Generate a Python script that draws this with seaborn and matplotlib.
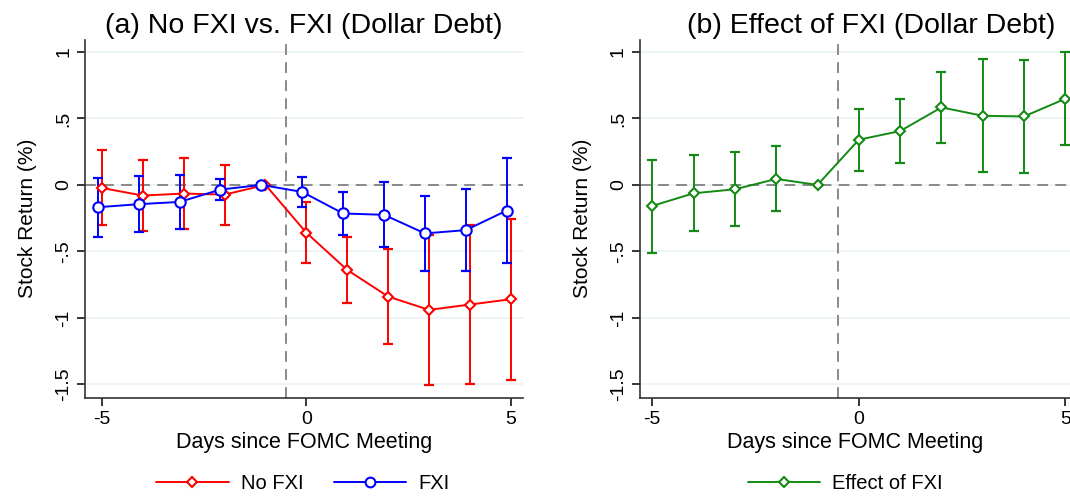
import numpy as np
import pandas as pd
import seaborn as sns
import matplotlib.pyplot as plt
from matplotlib.lines import Line2D

sns.set_style('white')
plt.rcParams['font.family'] = ['Liberation Sans', 'DejaVu Sans']
plt.rcParams['axes.unicode_minus'] = False
plt.rcParams['text.color'] = 'black'
plt.rcParams['axes.labelcolor'] = 'black'
plt.rcParams['xtick.color'] = 'black'
plt.rcParams['ytick.color'] = 'black'

# Event-study estimates
days = [-5, -4, -3, -2, -1, 0, 1, 2, 3, 4, 5]

nofxi = [-0.023, -0.08, -0.065, -0.073, 0.0, -0.36, -0.64, -0.84, -0.94, -0.90, -0.86]
nofxi_lo = [-0.305, -0.35, -0.33, -0.30, 0.0, -0.59, -0.89, -1.20, -1.505, -1.50, -1.465]
nofxi_hi = [0.26, 0.19, 0.20, 0.15, 0.0, -0.13, -0.39, -0.48, -0.38, -0.30, -0.26]

fxi = [-0.168, -0.145, -0.128, -0.035, 0.0, -0.053, -0.215, -0.225, -0.365, -0.34, -0.193]
fxi_lo = [-0.39, -0.355, -0.33, -0.11, 0.0, -0.168, -0.38, -0.47, -0.65, -0.65, -0.59]
fxi_hi = [0.055, 0.065, 0.073, 0.048, 0.0, 0.063, -0.05, 0.02, -0.083, -0.028, 0.205]

effect = [-0.158, -0.063, -0.033, 0.045, 0.0, 0.34, 0.405, 0.583, 0.52, 0.515, 0.648]
effect_lo = [-0.51, -0.35, -0.31, -0.20, 0.0, 0.108, 0.163, 0.313, 0.098, 0.093, 0.298]
effect_hi = [0.19, 0.225, 0.245, 0.29, 0.0, 0.57, 0.645, 0.853, 0.945, 0.94, 0.998]

yticks = [1, 0.5, 0, -0.5, -1, -1.5]
ytick_labels = ['1', '.5', '0', '-.5', '-1', '-1.5']

RED = '#ff0000'
BLUE = '#0000ff'
GREEN = '#138a13'

fig = plt.figure(figsize=(10.7, 4.97), dpi=100)
ax1 = fig.add_axes([85.3 / 1070, 0.2, 437.4 / 1070, 0.7195])
ax2 = fig.add_axes([640 / 1070, 0.2, 430 / 1070, 0.7195])


def draw_series(ax, x, y, lo, hi, color, marker, ms):
    df = pd.DataFrame({'x': x, 'y': y})
    lo = np.array(lo)
    hi = np.array(hi)
    yerr = np.vstack([np.array(y) - lo, hi - np.array(y)])
    ax.errorbar(x, y, yerr=yerr, fmt='none', ecolor=color, elinewidth=1.4,
                capsize=3.4, capthick=1.6, zorder=3)
    sns.lineplot(data=df, x='x', y='y', ax=ax, color=color, marker=marker,
                 markersize=ms, markerfacecolor='white', markeredgecolor=color,
                 markeredgewidth=1.5, linewidth=1.4, zorder=4)


def style_axes(ax, xmin, xmax):
    ax.set_ylim(-1.6, 1.09)
    ax.set_xlim(xmin, xmax)
    for v in yticks:
        ax.axhline(v, color='#eaf2f3', linewidth=1.2, zorder=0)
    ax.axhline(0, color='#808080', linestyle=(0, (6, 4)), linewidth=1.3, zorder=1)
    ax.axvline(-0.5, color='#808080', linestyle=(0, (6, 4)), linewidth=1.3, zorder=1)
    ax.set_yticks(yticks)
    ax.set_yticklabels(ytick_labels, rotation=90, va='center')
    ax.set_xticks([-5, 0, 5])
    ax.tick_params(axis='both', direction='out', length=6, width=1.1,
                   labelsize=14, bottom=True, left=True)
    ax.set_xlabel('Days since FOMC Meeting', fontsize=15.5, labelpad=3)
    ax.set_ylabel('Stock Return (%)', fontsize=15, labelpad=13)
    sns.despine(ax=ax)
    for s in ['left', 'bottom']:
        ax.spines[s].set_color('#333333')
        ax.spines[s].set_linewidth(1.2)


draw_series(ax1, days, nofxi, nofxi_lo, nofxi_hi, RED, 'D', 5.5)
draw_series(ax1, [d - 0.1 for d in days], fxi, fxi_lo, fxi_hi, BLUE, 'o', 7.5)
style_axes(ax1, -5.406, 5.29)
ax1.set_title('(a) No FXI vs. FXI (Dollar Debt)', fontsize=20.5, pad=5)

draw_series(ax2, days, effect, effect_lo, effect_hi, GREEN, 'D', 5.5)
style_axes(ax2, -5.298, 5.113)
ax2.set_title('(b) Effect of FXI (Dollar Debt)', fontsize=20.5, pad=5, x=0.537)

h_red = Line2D([], [], color=RED, marker='D', markersize=5.5, markerfacecolor='white',
               markeredgewidth=1.5, linewidth=1.4)
h_blue = Line2D([], [], color=BLUE, marker='o', markersize=7, markerfacecolor='white',
                markeredgewidth=1.5, linewidth=1.4)
h_green = Line2D([], [], color=GREEN, marker='D', markersize=5.5, markerfacecolor='white',
                 markeredgewidth=1.5, linewidth=1.4)

fig.legend([h_red, h_blue], ['No FXI', 'FXI'], loc='center', bbox_to_anchor=(0.283, 0.028),
           ncol=2, frameon=False, fontsize=14.5, handlelength=3.6, handletextpad=0.6,
           columnspacing=1.5)
fig.legend([h_green], ['Effect of FXI'], loc='center', bbox_to_anchor=(0.79, 0.028),
           frameon=False, fontsize=14.5, handlelength=3.6, handletextpad=0.6)

fig.savefig('out.png', dpi=100)
plt.close()
